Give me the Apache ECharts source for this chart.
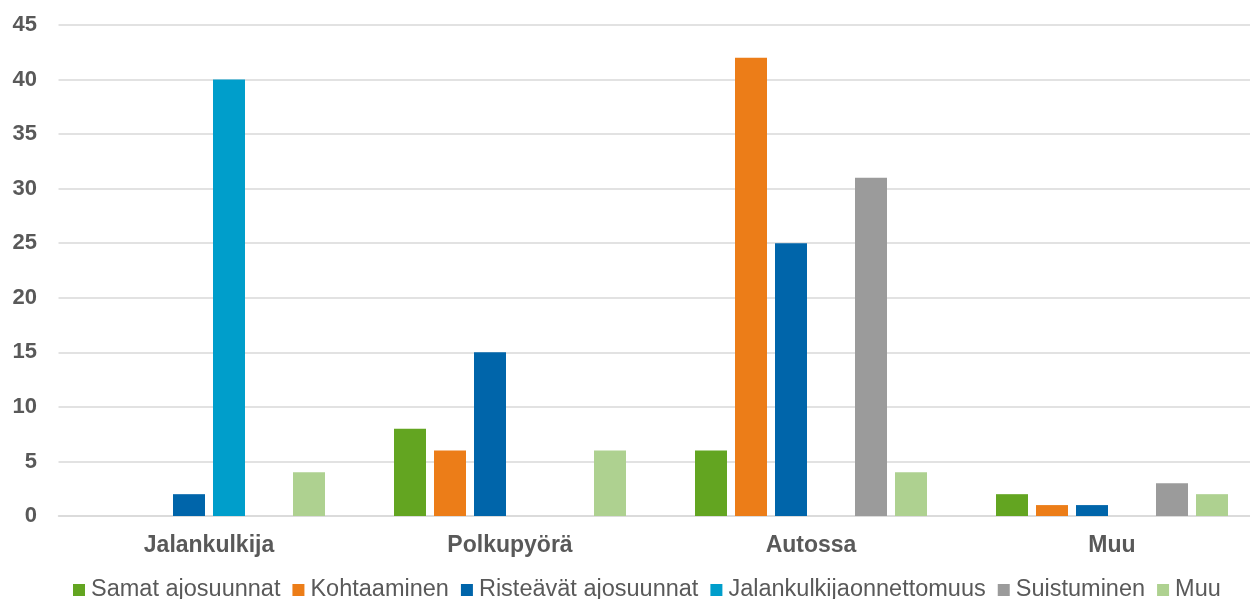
<!DOCTYPE html>
<html><head><meta charset="utf-8">
<script src="https://cdn.jsdelivr.net/npm/echarts@6/dist/echarts.min.js"></script>
<style>html,body{margin:0;padding:0;background:#fff}#c{width:1250px;height:599px}</style>
</head><body><div id="c"></div>
<script>
const categories = ['Jalankulkija', 'Polkupyörä', 'Autossa', 'Muu'];
const seriesNames = ['Samat ajosuunnat', 'Kohtaaminen', 'Risteävät ajosuunnat', 'Jalankulkijaonnettomuus', 'Suistuminen', 'Muu'];
const samat = [0, 8, 6, 2];
const kohtaaminen = [0, 6, 42, 1];
const risteavat = [2, 15, 25, 1];
const jalankulkija = [40, 0, 0, 0];
const suistuminen = [0, 0, 31, 3];
const muu = [4, 6, 4, 2];
const yTicks = [0, 5, 10, 15, 20, 25, 30, 35, 40, 45];
const colors = ['#63A521', '#EC7D18', '#0065AA', '#009ECB', '#9B9B9B', '#AED190'];

const values = [samat, kohtaaminen, risteavat, jalankulkija, suistuminen, muu];
const chart = echarts.init(document.getElementById('c'));
chart.setOption({
  animation: false,
  textStyle: { fontFamily: 'Liberation Sans, Arial, sans-serif' },
  grid: { left: 58.5, width: 1204, top: 25, bottom: 83, containLabel: false, outerBoundsMode: 'none' },
  legend: {
    top: 578, left: 73, padding: 0,
    itemWidth: 12, itemHeight: 12, itemGap: 12,
    icon: 'rect',
    textStyle: { fontSize: 23.5, color: '#595959', padding: [0, 0, 0, 1] },
    data: seriesNames
  },
  xAxis: {
    type: 'category', data: categories,
    axisLine: { lineStyle: { color: '#D9D9D9', width: 1.5 } },
    axisTick: { show: false },
    axisLabel: { fontSize: 23, fontWeight: 'bold', color: '#595959', margin: 18 }
  },
  yAxis: {
    type: 'value', min: yTicks[0], max: yTicks[yTicks.length - 1], interval: 5,
    axisLine: { show: false }, axisTick: { show: false },
    axisLabel: { fontSize: 22, fontWeight: 'bold', color: '#595959', margin: 21.5 },
    splitLine: { lineStyle: { color: '#D9D9D9', width: 1.5 } }
  },
  series: seriesNames.map((n, i) => ({
    name: n, type: 'bar', data: values[i],
    barWidth: 32, barGap: '25%',
    itemStyle: { color: colors[i] }
  }))
});
</script></body></html>
